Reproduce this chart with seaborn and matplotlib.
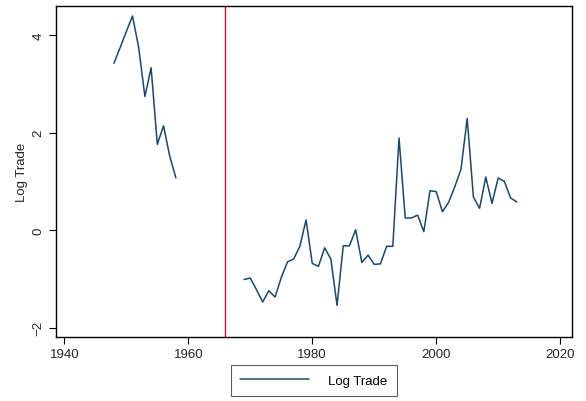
import numpy as np
import pandas as pd
import matplotlib
matplotlib.use("Agg")
import matplotlib.pyplot as plt
import seaborn as sns

years = list(range(1948, 2014))
seg1 = [3.42, 3.74, 4.07, 4.39, 3.74, 2.74, 3.33, 1.76, 2.14, 1.52, 1.07]
gap = [np.nan] * 10  # 1959-1968
seg2 = [-1.01, -0.98, -1.22, -1.47, -1.24, -1.37, -0.97, -0.65, -0.59, -0.33,
        0.21, -0.68, -0.74, -0.36, -0.59, -1.54, -0.32, -0.32, 0.01, -0.66,
        -0.51, -0.70, -0.69, -0.33, -0.33, 1.89, 0.25, 0.25, 0.31, -0.03,
        0.81, 0.79, 0.38, 0.57, 0.89, 1.25, 2.29, 0.68, 0.45, 1.09,
        0.55, 1.07, 1.00, 0.66, 0.58]
log_trade = seg1 + gap + seg2
vline_year = 1966
xticks = [1940, 1960, 1980, 2000, 2020]
yticks = [-2, 0, 2, 4]

df = pd.DataFrame({"year": years, "Log Trade": log_trade})

sns.set_theme(style="white")
plt.rcParams['font.family'] = ['Liberation Sans', 'DejaVu Sans']

fig = plt.figure(figsize=(5.86, 4.02), dpi=100)
ax = fig.add_axes([0.095, 0.159, 0.881, 0.823])

line_color = "#1a476f"
ax.plot(df["year"], df["Log Trade"], color=line_color, lw=1.1, label="Log Trade")
ax.axvline(vline_year, color="#c8103c", lw=1.0)

ax.set_xlim(1938.6, 2021.9)
ax.set_ylim(-2.19, 4.59)
ax.set_xticks(xticks)
ax.set_yticks(yticks)
ax.set_yticklabels([str(t).replace("-", "\u2212") for t in yticks], rotation=90, va="center")
ax.tick_params(axis="both", direction="out", length=5, width=0.8, color="black",
               labelsize=9.5, left=True, bottom=True, pad=3)
ax.set_xlabel("")
ax.set_ylabel("Log Trade", fontsize=9.5, labelpad=3)
for s in ax.spines.values():
    s.set_color("black")
    s.set_linewidth(1.0)

leg = ax.legend(loc="upper center", bbox_to_anchor=(0.5, -0.085), frameon=True,
                fancybox=False, edgecolor="#333333", fontsize=9.5, handlelength=5.2,
                borderpad=0.7, handletextpad=1.5, borderaxespad=0)
leg.get_frame().set_linewidth(0.8)
for t in leg.get_texts():
    t.set_color("black")

fig.savefig("out.png", dpi=100, facecolor="white")
